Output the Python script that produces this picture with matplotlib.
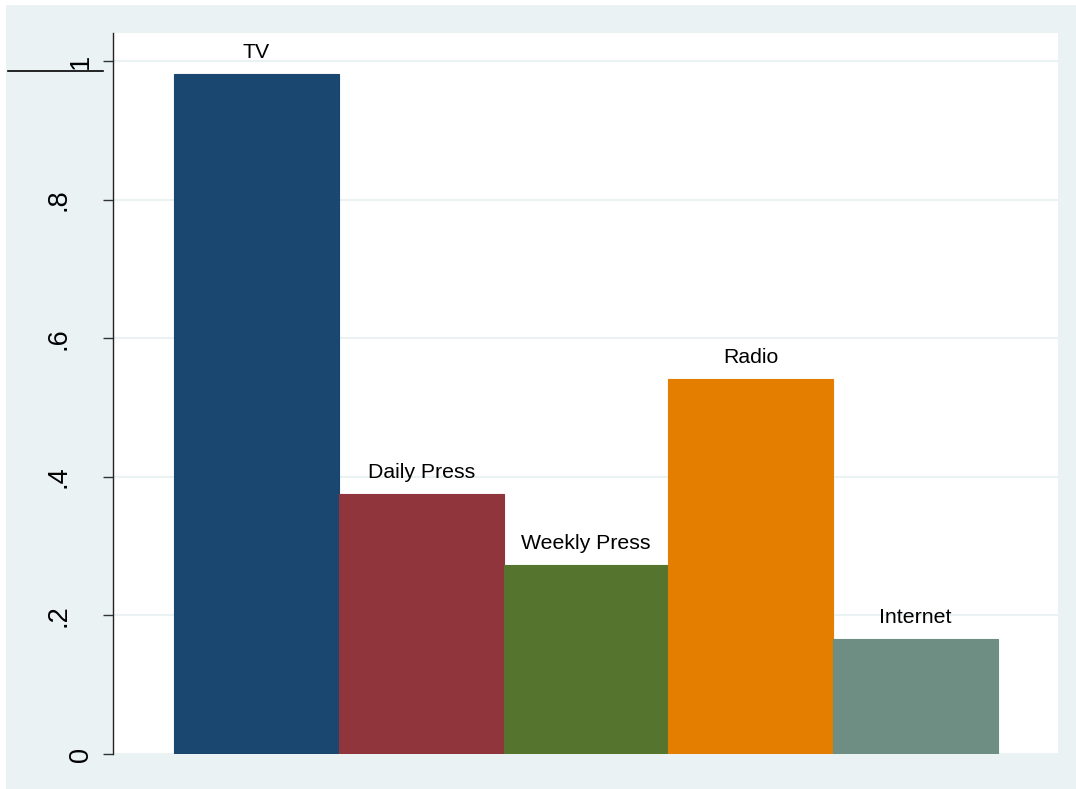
import matplotlib
matplotlib.use('Agg')
import matplotlib.pyplot as plt
from matplotlib.lines import Line2D
from matplotlib.patches import Rectangle

media = ['TV', 'Daily Press', 'Weekly Press', 'Radio', 'Internet']
share = [0.981, 0.375, 0.273, 0.541, 0.166]
colors = ['#1A476F', '#90353B', '#55752F', '#E37E00', '#6E8E84']
yticks = [0, 0.2, 0.4, 0.6, 0.8, 1.0]
ylabels = ['0', '.2', '.4', '.6', '.8', '1']

W, H = 1076, 789
bg = '#EAF2F3'

plt.rcParams['font.family'] = ['Liberation Sans', 'DejaVu Sans']

fig = plt.figure(figsize=(W / 100, H / 100), dpi=100, facecolor='white')
# outer light panel
fig.add_artist(Rectangle((6 / W, 0), 1, 1 - 5 / H, transform=fig.transFigure,
                         facecolor=bg, edgecolor='none', zorder=0))
# stray line at top left
fig.add_artist(Line2D([8 / W, 103 / W], [1 - 71 / H, 1 - 71 / H],
                      transform=fig.transFigure, color='black', lw=1.2))

left, right, top, bottom = 113, 1058, 33, 754
ax = fig.add_axes([left / W, 1 - bottom / H, (right - left) / W, (bottom - top) / H])
ax.set_facecolor('white')

x = list(range(len(media)))
bars = ax.bar(x, share, width=1.0, color=colors, edgecolor=colors, linewidth=0.8, zorder=3)
for i, v in enumerate(share):
    ax.annotate(media[i], (x[i], v), xytext=(0, 11.5), textcoords='offset points',
                ha='center', va='baseline', fontsize=15.3, color='black', zorder=4)

ax.set_xlim(-0.5 - 61 / 165, 4.5 + 60 / 165)
ax.set_ylim(0, 1 + 28 / 693)

# tick marks only, labels drawn by hand (stata places the dotted ones further out)
ax.set_yticks(yticks)
ax.set_yticklabels([])
ax.tick_params(axis='y', length=7.2, width=1, color='#333333')
for t, lab in zip(yticks, ylabels):
    off = 30.2 if lab.startswith('.') else 14.0
    ax.annotate(lab, (0, t), xycoords=('axes fraction', 'data'), xytext=(-off, 0),
                textcoords='offset points', rotation=90, ha='right', va='center',
                fontsize=19.5, color='black', annotation_clip=False)
ax.set_xticks([])
ax.grid(axis='y', color=bg, linewidth=1.5, zorder=1)

for s in ['top', 'right', 'bottom']:
    ax.spines[s].set_visible(False)
ax.spines['left'].set_color('#222222')
ax.spines['left'].set_linewidth(1)

plt.savefig('out.png', dpi=100, facecolor=fig.get_facecolor())
